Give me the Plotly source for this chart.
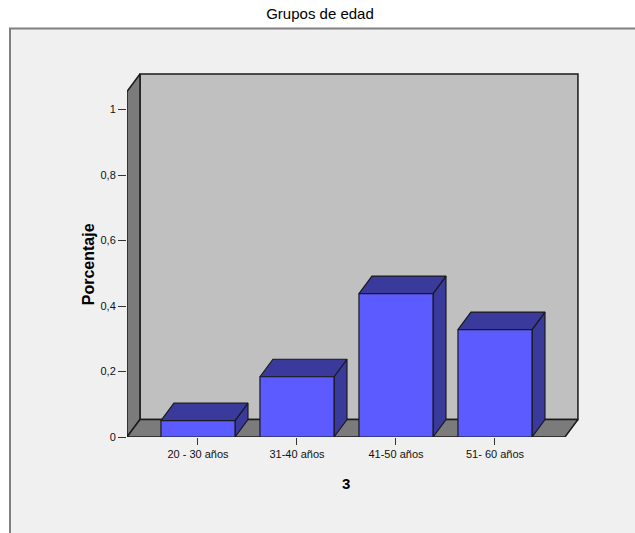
import plotly.graph_objects as go

# Age groups and share of respondents (fraction of total)
grupos = ["20 - 30 años", "31-40 años", "41-50 años", "51- 60 años"]
porcentaje = [0.050, 0.184, 0.438, 0.328]
y_ticks = [0, 0.2, 0.4, 0.6, 0.8, 1]
y_tick_text = ["0", "0,2", "0,4", "0,6", "0,8", "1"]

# 3D box geometry (axis units)
X0 = -0.717          # front-left corner of the floor
X1 = 3.707           # front-right corner of the floor
DX = 0.131           # depth offset along x
DY = 0.0534          # depth offset along y
WALL_TOP = 1.055     # front height of the side wall
HALF = 0.374         # half bar width

FONT = "Liberation Sans, Arial, sans-serif"
EDGE = "#1a1a1a"

fig = go.Figure()


def face(xs, ys, color, width=1.2):
    fig.add_trace(go.Scatter(
        x=xs + [xs[0]], y=ys + [ys[0]], mode="lines", fill="toself",
        fillcolor=color, line=dict(color=EDGE, width=width),
        hoverinfo="skip", showlegend=False))


# back wall
face([X0 + DX, X1 + DX, X1 + DX, X0 + DX],
     [DY, DY, WALL_TOP + DY, WALL_TOP + DY], "#c0c0c0", 1.5)
# left side wall
face([X0, X0, X0 + DX, X0 + DX],
     [0, WALL_TOP, WALL_TOP + DY, DY], "#7b7b7b", 1.5)
# floor
face([X0, X1, X1 + DX, X0 + DX],
     [0, 0, DY, DY], "#7b7b7b", 1.5)

# bars as prisms: side, top, front
for i, v in enumerate(porcentaje):
    l, r = i - HALF, i + HALF
    face([r, r + DX, r + DX, r], [0, DY, v + DY, v], "#3a3a9c")
    face([l, r, r + DX, l + DX], [v, v, v + DY, v + DY], "#3a3a9c")
    face([l, r, r, l], [0, 0, v, v], "#5b5bff")

W, H = 635, 533
ML, MR, MT, MB = 127, 53, 70, 96
px_x = 99.0
px_y = 327.5
x_range = [X0, X0 + (W - ML - MR) / px_x]
y_range = [0, (H - MT - MB) / px_y]

pw = W - ML - MR
ph = H - MT - MB


def paper_x(px):
    return (px - ML) / pw


def paper_y(py):
    return (H - MB - py) / ph


# light panel with grey border behind the chart
fig.add_shape(type="rect", xref="paper", yref="paper",
              x0=paper_x(10), x1=paper_x(W + 10),
              y0=paper_y(H + 10), y1=paper_y(28.5),
              fillcolor="#f0f0f0", line=dict(color="#808080", width=2),
              layer="below")

fig.add_annotation(text="<b>Porcentaje</b>", xref="paper", yref="y",
                   x=paper_x(88), y=WALL_TOP / 2, textangle=-90,
                   showarrow=False, xanchor="center", yanchor="middle",
                   font=dict(family=FONT, size=16, color="#000000"))
fig.add_annotation(text="<b>3</b>", xref="x", yref="paper",
                   x=(X0 + X1) / 2, y=paper_y(483), showarrow=False,
                   xanchor="center", yanchor="middle",
                   font=dict(family=FONT, size=15, color="#000000"))

fig.update_layout(
    width=W, height=H,
    margin=dict(l=ML, r=MR, t=MT, b=MB),
    paper_bgcolor="#ffffff",
    plot_bgcolor="rgba(0,0,0,0)",
    title=dict(text="Grupos de edad", x=320 / W, xref="container",
               y=1 - 14 / H, yref="container", xanchor="center",
               yanchor="middle",
               font=dict(family=FONT, size=15, color="#000000")),
    xaxis=dict(range=x_range, showgrid=False, zeroline=False,
               showline=False, tickmode="array",
               tickvals=list(range(len(grupos))), ticktext=grupos,
               ticks="outside", ticklen=7, tickcolor="#333333",
               tickfont=dict(family=FONT, size=11, color="#111111")),
    yaxis=dict(range=y_range, showgrid=False, zeroline=False,
               showline=False, tickmode="array", tickvals=y_ticks,
               ticktext=y_tick_text, ticks="outside", ticklen=8,
               tickcolor="#333333",
               tickfont=dict(family=FONT, size=11, color="#111111")),
)

fig.write_html("out.html")
